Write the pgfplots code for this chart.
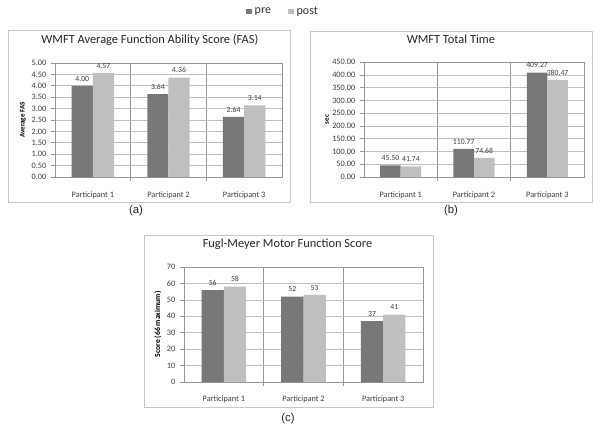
\documentclass[border=0pt]{standalone}
\usepackage{fontspec}
\setmainfont{Carlito}
\newfontfamily\arialfont{Liberation Sans}
\usepackage{pgfplots}
\pgfplotsset{compat=1.18}
\definecolor{preC}{RGB}{120,120,120}
\definecolor{postC}{RGB}{191,191,191}
\definecolor{gridC}{RGB}{192,192,192}
\definecolor{axisC}{RGB}{150,150,150}
\definecolor{frameC}{RGB}{200,200,200}
\definecolor{txtC}{RGB}{60,60,60}

\pgfplotsset{
 excel/.style={
  scale only axis, anchor=south west,
  ybar, bar width=0.28,
  xmin=-0.5, xmax=2.5, ymin=0,
  xtick={0,1,2}, xticklabels={Participant 1,Participant 2,Participant 3},
  minor xtick={0.5,1.5},
  xminorgrids, ymajorgrids,
  grid style={gridC, line width=0.5pt},
  minor grid style={axisC, line width=0.5pt},
  axis line style={axisC, line width=0.5pt},
  tick align=outside, ytick pos=left, xtick pos=bottom,
  major x tick style={draw=none},
  minor x tick style={axisC, line width=0.5pt},
  y tick style={axisC, line width=0.5pt},
  minor tick length=3pt, major tick length=3pt,
  tick label style={font=\fontsize{6.2}{7}\selectfont, text=txtC},
  /pgf/number format/assume math mode=true,
  xticklabel style={anchor=center, yshift=-10.5pt},
  ylabel style={font=\bfseries\fontsize{5.3}{6}\selectfont, text=black, anchor=center},
  title style={font=\fontsize{9.3}{10}\selectfont, text=black!85, anchor=center, yshift=11.25pt},
  nodes near coords style={font=\fontsize{5.8}{6}\selectfont, text=txtC},
  clip=false,
 },
 prebar/.style={fill=preC, draw=none, bar shift=-0.14},
 postbar/.style={fill=postC, draw=none, bar shift=0.14},
}

\begin{document}
\begin{tikzpicture}[x=0.75pt, y=0.75pt]
\useasboundingbox (0,0) rectangle (600,426);

% (a)
\begin{axis}[excel,
  at={(41.25pt,186.75pt)}, width=170.25pt, height=85.5pt,
  ymax=5, ytick={0,0.5,...,5},
  yticklabel={\pgfmathprintnumber[fixed,fixed zerofill,precision=2]{\tick}},
  ylabel={Average FAS},
  ylabel style={at={(axis description cs:-0.141,0.5)}},
  title={WMFT Average Function Ability Score (FAS)},
  title style={at={(axis description cs:0.418,1)}},
  nodes near coords={\pgfmathprintnumber[fixed,fixed zerofill,precision=2]{\pgfplotspointmeta}},
  legend columns=2,
  legend style={draw=none, fill=none, at={(1.0066,1.447)}, anchor=center,
    font=\fontsize{9}{10}\selectfont, text=black!80,
    /tikz/every even column/.append style={column sep=11pt}},
  legend image code/.code={\fill[#1] (0pt,-1.8pt) rectangle (4.2pt,2.4pt);},
]
\addplot[prebar] coordinates {(0,4.00) (1,3.64) (2,2.64)};
\addplot[postbar] coordinates {(0,4.57) (1,4.36) (2,3.14)};
\legend{pre,post}
\end{axis}

% (b)
\begin{axis}[excel,
  at={(273pt,186.75pt)}, width=165pt, height=86pt,
  ymax=450, ytick={0,50,...,450},
  yticklabel={\pgfmathprintnumber[fixed,fixed zerofill,precision=2]{\tick}},
  ylabel={sec},
  ylabel style={at={(axis description cs:-0.168,0.5)}},
  title={WMFT Total Time},
  title style={at={(axis description cs:0.395,1)}},
  nodes near coords={\pgfmathprintnumber[fixed,fixed zerofill,precision=2]{\pgfplotspointmeta}},
]
\addplot[prebar] coordinates {(0,45.50) (1,110.77) (2,409.27)};
\addplot[postbar] coordinates {(0,41.74) (1,74.68) (2,380.47)};
\end{axis}

% (c)
\begin{axis}[excel,
  at={(138pt,33pt)}, width=179.25pt, height=86.25pt,
  ymax=70, ytick={0,10,...,70},
  yticklabel={\pgfmathprintnumber[fixed,precision=0]{\tick}},
  ylabel={Score (66 maximum)},
  ylabel style={at={(axis description cs:-0.109,0.5)}, font=\bfseries\fontsize{5.8}{6}\selectfont},
  title={Fugl-Meyer Motor Function Score},
  title style={at={(axis description cs:0.433,1)}},
  xticklabel style={yshift=0.75pt},
  nodes near coords={\pgfmathprintnumber[fixed,precision=0]{\pgfplotspointmeta}},
]
\addplot[prebar] coordinates {(0,56) (1,52) (2,37)};
\addplot[postbar] coordinates {(0,58) (1,53) (2,41)};
\end{axis}

% frames
\draw[frameC, line width=0.6pt] (8,224) rectangle (290,396);
\draw[frameC, line width=0.6pt] (310,224) rectangle (592,395);
\draw[frameC, line width=0.6pt] (144,19) rectangle (433,191);

% captions
\node[font=\arialfont\fontsize{8.5}{10}\selectfont, text=black!85] at (136,215) {(a)};
\node[font=\arialfont\fontsize{8.5}{10}\selectfont, text=black!85] at (451,215) {(b)};
\node[font=\arialfont\fontsize{8.5}{10}\selectfont, text=black!85] at (288,7) {(c)};
\end{tikzpicture}
\end{document}
